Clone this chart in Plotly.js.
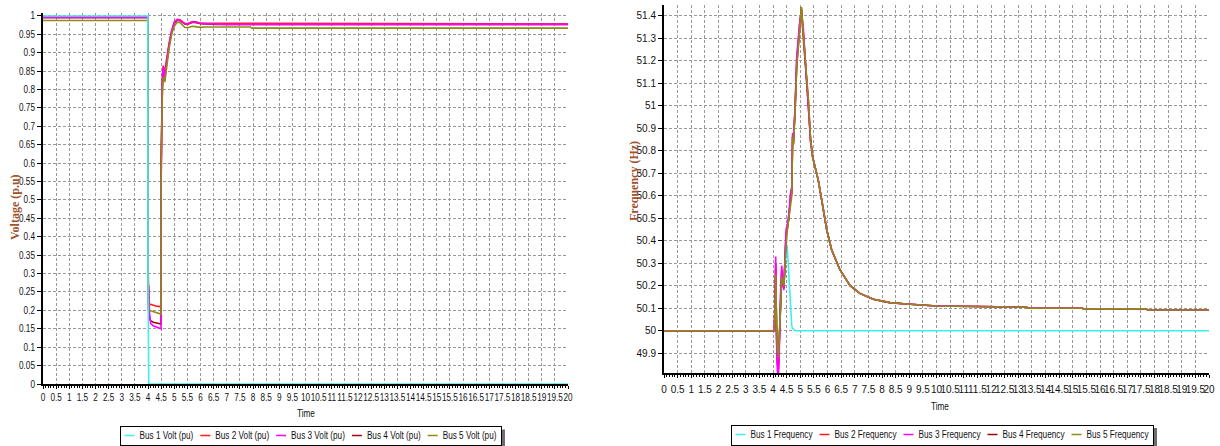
<!DOCTYPE html>
<html>
<head>
<meta charset="utf-8">
<script src="https://cdn.plot.ly/plotly-3.0.1.min.js"></script>
<style>html,body{margin:0;padding:0;background:#fff;overflow:hidden;}#gd{width:1220px;height:446px;}</style>
</head>
<body>
<div id="gd"></div>
<script>
// ---------- DATA ----------
const busNames = ['Bus 1', 'Bus 2', 'Bus 3', 'Bus 4', 'Bus 5'];
const busColors = ['#3FEFEF', '#FF1A1A', '#FF00FF', '#9A0A0A', '#8C8C14'];

// Voltage (pu) vs time (s)
const tVolt = [0, 3.995, 4.0, 4.01, 4.03, 4.06, 4.1, 4.2, 4.3, 4.4,
  4.495, 4.5, 4.52, 4.55, 4.58, 4.61, 4.64, 4.68, 4.72, 4.8,
  4.9, 5.0, 5.1, 5.2, 5.3, 5.4, 5.5, 5.6, 5.7, 5.8,
  5.9, 6.0, 6.2, 6.4, 6.6, 7.0, 7.9, 7.95, 10, 15, 20];
const volt1 = [1.0, 1.0, 0.278, 0, 0, 0, 0, 0, 0, 0,
  0, 0, 0, 0, 0, 0, 0, 0, 0, 0,
  0, 0, 0, 0, 0, 0, 0, 0, 0, 0,
  0, 0, 0, 0, 0, 0, 0, 0, 0, 0, 0];
const volt2 = [0.996, 0.996, 0.28, 0.23, 0.22, 0.217, 0.216, 0.214, 0.212, 0.211,
  0.21, 0.6, 0.78, 0.84, 0.865, 0.85, 0.84, 0.87, 0.89, 0.925,
  0.96, 0.983, 0.99, 0.99, 0.985, 0.98, 0.979, 0.982, 0.985, 0.984,
  0.982, 0.981, 0.98, 0.98, 0.978, 0.978, 0.978, 0.978, 0.978, 0.978, 0.978];
const volt3 = [0.996, 0.996, 0.3, 0.2, 0.268, 0.19, 0.165, 0.158, 0.155, 0.152,
  0.15, 0.55, 0.74, 0.83, 0.86, 0.845, 0.83, 0.86, 0.885, 0.92,
  0.958, 0.982, 0.99, 0.989, 0.984, 0.979, 0.978, 0.981, 0.984, 0.983,
  0.981, 0.98, 0.979, 0.978, 0.977, 0.977, 0.977, 0.977, 0.977, 0.977, 0.977];
const volt4 = [0.996, 0.996, 0.345, 0.25, 0.2, 0.18, 0.172, 0.168, 0.166, 0.165,
  0.163, 0.6, 0.76, 0.82, 0.84, 0.83, 0.825, 0.855, 0.88, 0.918,
  0.955, 0.98, 0.988, 0.988, 0.983, 0.978, 0.977, 0.98, 0.983, 0.982,
  0.98, 0.979, 0.978, 0.977, 0.977, 0.977, 0.977, 0.977, 0.977, 0.977, 0.977];
const volt5 = [0.9875, 0.9875, 0.3, 0.22, 0.205, 0.2, 0.199, 0.196, 0.194, 0.192,
  0.19, 0.55, 0.72, 0.8, 0.83, 0.835, 0.82, 0.845, 0.87, 0.91,
  0.95, 0.972, 0.982, 0.983, 0.976, 0.969, 0.968, 0.971, 0.972, 0.971,
  0.97, 0.969, 0.97, 0.97, 0.97, 0.97, 0.97, 0.967, 0.967, 0.967, 0.967];

// Frequency (Hz) vs time (s)
const tFreq = [0, 4.05, 4.08, 4.1, 4.13, 4.16, 4.2, 4.23, 4.27, 4.32,
  4.36, 4.4, 4.44, 4.48, 4.52, 4.58, 4.65, 4.69, 4.72, 4.75,
  4.81, 4.87, 4.97, 5.04, 5.11, 5.17, 5.24, 5.3, 5.38, 5.46,
  5.56, 5.66, 5.79, 5.97, 6.15, 6.46, 6.83, 7.19, 7.68, 8.29,
  8.9, 10.0, 13.3, 13.35, 15.36, 15.4, 17.7, 17.75, 20];
const freq1 = [50, 50, 50.1, 50.22, 50.02, 49.9, 49.9, 49.98, 50.1, 50.2,
  50.2, 50.19, 50.28, 50.36, 50.38, 50.25, 50.07, 50.02, 50.01, 50.005,
  50, 50, 50, 50, 50, 50, 50, 50, 50, 50,
  50, 50, 50, 50, 50, 50, 50, 50, 50, 50,
  50, 50, 50, 50, 50, 50, 50, 50, 50];
const freq2 = [50, 50, 50.15, 50.28, 50.0, 49.87, 49.85, 49.95, 50.15, 50.26,
  50.2, 50.19, 50.32, 50.43, 50.46, 50.5, 50.6, 50.62, 50.87, 50.84,
  50.99, 51.2, 51.35, 51.43, 51.3, 51.22, 51.12, 51.02, 50.84, 50.77,
  50.72, 50.67, 50.58, 50.45, 50.36, 50.27, 50.2, 50.166, 50.14, 50.125,
  50.119, 50.11, 50.105, 50.1, 50.1, 50.097, 50.097, 50.092, 50.092];
const freq3 = [50, 50, 50.2, 50.33, 49.95, 49.82, 49.8, 49.9, 50.15, 50.29,
  50.22, 50.18, 50.33, 50.45, 50.47, 50.52, 50.62, 50.64, 50.88, 50.85,
  50.99, 51.22, 51.36, 51.42, 51.35, 51.24, 51.12, 51.02, 50.84, 50.77,
  50.72, 50.67, 50.58, 50.45, 50.36, 50.27, 50.2, 50.166, 50.14, 50.125,
  50.119, 50.11, 50.105, 50.1, 50.1, 50.097, 50.097, 50.092, 50.092];
const freq4 = [50, 50, 50.18, 50.3, 49.98, 49.85, 49.83, 49.92, 50.12, 50.27,
  50.21, 50.19, 50.31, 50.42, 50.45, 50.5, 50.6, 50.61, 50.86, 50.83,
  50.98, 51.18, 51.33, 51.44, 51.33, 51.22, 51.13, 51.03, 50.85, 50.77,
  50.72, 50.67, 50.58, 50.45, 50.36, 50.27, 50.2, 50.166, 50.14, 50.125,
  50.119, 50.11, 50.105, 50.1, 50.1, 50.097, 50.097, 50.092, 50.092];
const freq5 = [50, 50, 50.12, 50.25, 50.05, 49.92, 49.88, 49.98, 50.12, 50.24,
  50.22, 50.2, 50.3, 50.4, 50.44, 50.5, 50.58, 50.6, 50.86, 50.83,
  50.98, 51.17, 51.32, 51.44, 51.32, 51.23, 51.13, 51.03, 50.85, 50.77,
  50.72, 50.67, 50.58, 50.45, 50.36, 50.27, 50.2, 50.166, 50.14, 50.125,
  50.119, 50.11, 50.105, 50.1, 50.1, 50.097, 50.097, 50.092, 50.092];

const voltSeries = [volt1, volt2, volt3, volt4, volt5];
const freqSeries = [freq1, freq2, freq3, freq4, freq5];
const voltLabel = ' Volt (pu)';
const freqLabel = ' Frequency';
const xTitle = 'Time';
const yTitleVolt = ['Voltage', '(p.u)'];
const yTitleFreq = ['Frequency', '(Hz)'];

// ---------- STYLE / LAYOUT ----------
const W = 1220, H = 446;
const px = v => v / W;
const py = v => 1 - v / H;
const FONT = '"Liberation Sans", Arial, sans-serif';
const NARROW = 0.82; // emulate a narrow sans face
const TITLE_FONT = '"Liberation Serif", "DejaVu Serif", serif';
const TITLE_COLOR = '#A0522D';

// drawing order (z) : volt -> 4,2,3,5,1 ; freq -> 1,4,2,3,5
const voltOrder = [3, 1, 2, 4, 0];
const freqOrder = [0, 3, 1, 2, 4];

const data = [];
voltOrder.forEach(i => data.push({
  type: 'scatter', mode: 'lines', x: tVolt, y: voltSeries[i], xaxis: 'x', yaxis: 'y',
  name: busNames[i] + voltLabel, legend: 'legend', legendrank: i + 1,
  line: {color: busColors[i], width: 1.6}
}));
freqOrder.forEach(i => data.push({
  type: 'scatter', mode: 'lines', x: tFreq, y: freqSeries[i], xaxis: 'x2', yaxis: 'y2',
  name: busNames[i] + freqLabel, legend: 'legend2', legendrank: i + 1,
  line: {color: busColors[i], width: 1.6}
}));

const common = {
  showgrid: true, gridcolor: '#999', griddash: '3px,2px', gridwidth: 1,
  showline: true, linecolor: '#000', linewidth: 2, zeroline: false,
  ticks: 'outside', tickcolor: '#000', tickwidth: 1, automargin: false,
  tickfont: {family: FONT, size: 10, color: '#111'}, tickangle: 0, fixedrange: true
};
const xCommon = Object.assign({}, common, {
  tick0: 0, dtick: 0.5, ticklen: 3, range: [0, 20],
  minor: {dtick: 0.1, ticks: 'outside', ticklen: 2, tickcolor: '#000', showgrid: false}
});

const layout = {
  width: W, height: H, autosize: false,
  margin: {l: 0, r: 0, t: 0, b: 0, pad: 0, autoexpand: false},
  paper_bgcolor: '#fff', plot_bgcolor: '#fff', showlegend: true,
  font: {family: FONT, size: 10, color: '#000'},
  xaxis: Object.assign({}, xCommon, {domain: [px(43), px(568)], anchor: 'y'}),
  yaxis: Object.assign({}, common, {domain: [py(384), py(13)], anchor: 'x',
    range: [0, 1.008], tick0: 0, dtick: 0.05, ticklen: 4}),
  xaxis2: Object.assign({}, xCommon, {domain: [px(664), px(1209)], anchor: 'y2', ticklabelstandoff: 3}),
  yaxis2: Object.assign({}, common, {domain: [py(373.3), py(5)], anchor: 'x2',
    range: [49.8105, 51.4488], tick0: 49.9, dtick: 0.1, ticklen: 4}),
  legend: {orientation: 'h', traceorder: 'normal', x: px(310), xanchor: 'center', y: py(426), yanchor: 'top',
    bgcolor: '#fff', bordercolor: '#000', borderwidth: 1, font: {family: FONT, size: 10, color: '#111'}},
  legend2: {orientation: 'h', traceorder: 'normal', x: px(942), xanchor: 'center', y: py(424), yanchor: 'top',
    bgcolor: '#fff', bordercolor: '#000', borderwidth: 1, font: {family: FONT, size: 10, color: '#111'}},
  annotations: [
    {text: xTitle, xref: 'paper', yref: 'paper', x: px(305.5), y: py(413), showarrow: false,
      xanchor: 'center', yanchor: 'middle', font: {family: FONT, size: 10, color: '#111'}},
    {text: xTitle, xref: 'paper', yref: 'paper', x: px(940), y: py(406), showarrow: false,
      xanchor: 'center', yanchor: 'middle', font: {family: FONT, size: 10, color: '#111'}},
    {text: '<b>' + yTitleVolt[0] + ' ' + yTitleVolt[1] + '</b>', xref: 'paper', yref: 'paper',
      x: px(15), y: py(207), textangle: -90, showarrow: false, xanchor: 'center', yanchor: 'middle',
      font: {family: TITLE_FONT, size: 12, color: TITLE_COLOR}},
    {text: '<b>' + yTitleFreq[0] + ' ' + yTitleFreq[1] + '</b>', xref: 'paper', yref: 'paper',
      x: px(634), y: py(181), textangle: -90, showarrow: false, xanchor: 'center', yanchor: 'middle',
      font: {family: TITLE_FONT, size: 12, color: TITLE_COLOR}}
  ]
};

function squeeze(t) {
  const w = t.getComputedTextLength();
  if (w > 0) {
    t.setAttribute('textLength', (w * NARROW).toFixed(2));
    t.setAttribute('lengthAdjust', 'spacingAndGlyphs');
  }
  return w * NARROW;
}

const gd = document.getElementById('gd');
Plotly.newPlot(gd, data, layout, {staticPlot: true, displayModeBar: false}).then(() => {
  // narrow the sans-serif texts like the original's condensed UI font
  gd.querySelectorAll('g.xtick text, g.ytick text').forEach(t => { try { squeeze(t); } catch (e) {} });
  gd.querySelectorAll('text.annotation-text').forEach(t => {
    if (t.textContent === xTitle) { try { squeeze(t); } catch (e) {} }
  });
  // compact legend items (short line sample) and add drop shadow, like the original
  const targets = {volt: {cx: 310.5, top: 426, h: 19}, freq: {cx: 942, top: 424.5, h: 20}};
  const legs = Array.from(gd.querySelectorAll('g.infolayer > g')).filter(g => g.querySelector('g.traces'));
  legs.forEach(leg => {
    try {
      const items = Array.from(leg.querySelectorAll('g.traces'));
      const t = (leg.textContent.indexOf('Volt') >= 0) ? targets.volt : targets.freq;
      const bg = leg.querySelector('rect.bg') || leg.querySelector('rect');
      let x = 5;
      items.forEach(it => {
        const p = it.querySelector('g.legendlines path');
        if (p) p.setAttribute('d', 'M0,0h10');
        const tx = it.querySelector('text');
        let w = 50;
        if (tx) {
          tx.setAttribute('x', 15);
          tx.querySelectorAll('tspan').forEach(s => { if (s.hasAttribute('x')) s.setAttribute('x', 15); });
          w = squeeze(tx);
        }
        it.setAttribute('transform', 'translate(' + x + ',' + (t.h / 2) + ')');
        x += 15 + w + 7;
      });
      const Wd = x - 2;
      if (bg) {
        bg.setAttribute('x', 0.5); bg.setAttribute('y', 0.5);
        bg.setAttribute('width', Wd);
        bg.setAttribute('height', t.h);
        const sh = document.createElementNS('http://www.w3.org/2000/svg', 'rect');
        sh.setAttribute('x', 3.5); sh.setAttribute('y', 3.5);
        sh.setAttribute('width', Wd); sh.setAttribute('height', t.h);
        sh.setAttribute('fill', '#6e6e6e');
        leg.insertBefore(sh, bg);
      }
      leg.setAttribute('transform', 'translate(' + (t.cx - Wd / 2) + ',' + t.top + ')');
    } catch (e) { /* keep default legend */ }
  });
});
</script>
</body>
</html>
